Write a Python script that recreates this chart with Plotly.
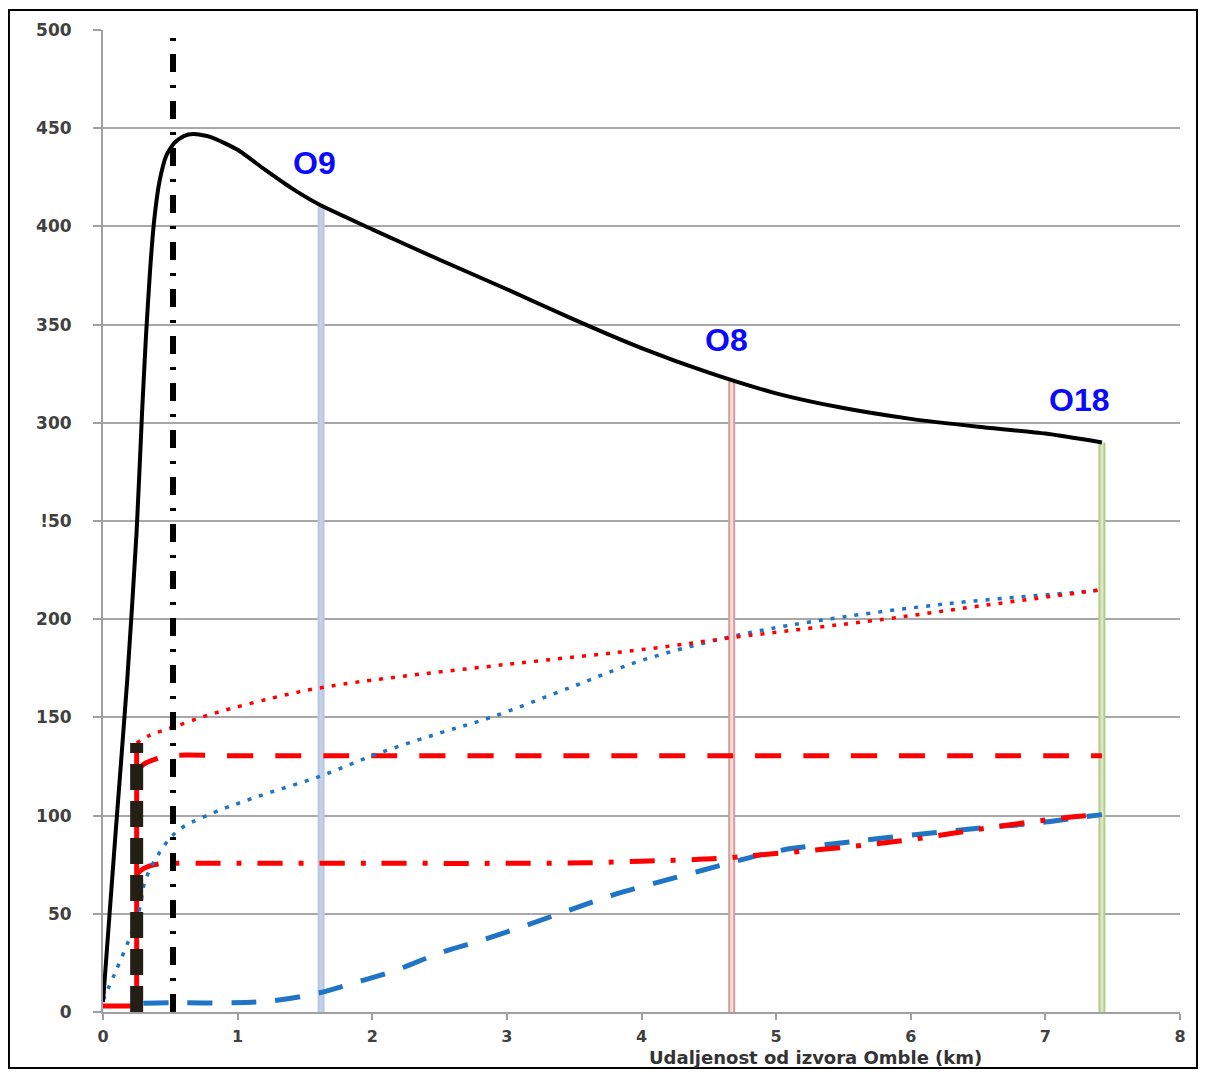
import plotly.graph_objects as go

# ---------------- data ----------------
x_ticks = [0, 1, 2, 3, 4, 5, 6, 7, 8]
y_ticks = [0, 50, 100, 150, 200, 250, 300, 350, 400, 450, 500]
y_tick_labels = ["0", "50", "100", "150", "200", "!50", "300", "350", "400", "450", "500"]
x_title = "Udaljenost od izvora Omble (km)"

# main black curve
black_x = [0, 0.09, 0.18, 0.25, 0.29, 0.32, 0.35, 0.38, 0.42, 0.47, 0.53, 0.6, 0.67, 0.8,
           1.0, 1.2, 1.4, 1.61, 2.0, 2.5, 3.0, 3.5, 4.0, 4.5, 5.0, 5.5,
           6.0, 6.5, 7.0, 7.42]
black_y = [5, 88, 169, 245, 305, 345, 378, 403, 423, 436, 442.5, 446, 447, 445.5,
           439, 429, 419.5, 411, 398.5, 383, 368, 352.5, 338, 325.5, 315, 307.5,
           302, 298, 294.5, 290]

# red dotted
red_dot_x = [0.25, 0.35, 0.52, 0.82, 1.39, 1.61, 2.0, 3.0, 4.06, 4.66, 5.8, 6.54, 7.31, 7.42]
red_dot_y = [137, 141, 145, 152, 162, 165, 169, 177, 185, 190.5, 200, 207, 214, 215]

# blue dotted
blue_dot_x = [0, 0.09, 0.2, 0.27, 0.31, 0.4, 0.55, 0.77, 1.14, 1.61, 2.06, 2.5, 2.88,
              3.5, 4.0, 4.66, 5.25, 6.29, 7.28, 7.42]
blue_dot_y = [6, 20, 38, 52, 66, 79, 92, 100, 109.5, 120, 132, 142, 150,
              166, 179, 191, 198.6, 208, 214, 215]

# red dashed
red_dash_x = [0.25, 0.3, 0.4, 0.5, 1.0, 3.0, 5.0, 7.42]
red_dash_y = [122, 126, 129, 130.5, 130.5, 130.5, 130.5, 130.5]

# red dash-dot
red_dashdot_x = [0.25, 0.3, 0.41, 0.6, 1.0, 2.0, 3.0, 3.6, 4.0, 4.31, 4.6, 4.88, 5.45, 6.02, 6.57, 7.13, 7.42]
red_dashdot_y = [70, 73, 75.4, 75.7, 75.7, 75.7, 75.7, 76, 76.8, 77.4, 78.3, 80, 83.5, 88, 93.7, 98.8, 100.5]

# blue dashed
blue_dash_x = [0.3, 0.5, 0.9, 1.24, 1.61, 1.86, 2.18, 2.5, 2.82, 3.15, 3.47, 3.79, 4.12,
               4.46, 4.68, 5.05, 5.48, 5.85, 6.22, 6.57, 6.91, 7.28, 7.42]
blue_dash_y = [4.5, 4.7, 4.6, 5.6, 9.8, 14.7, 21.4, 30, 36.7, 44.3, 52, 59.6, 66,
               72.3, 76.4, 82.5, 86, 89, 91.6, 94, 96, 99.3, 100.5]

# red solid base
red_base_x = [0, 0.25, 0.25]
red_base_y = [3, 3, 135]

# vertical black markers
thick_dash_x = [0.25, 0.25]
thick_dash_y = [0, 137]
dashdot_x = [0.52, 0.52]
dashdot_y = [0, 496]

# stations
stations = ["O9", "O8", "O18"]
station_x = [1.62, 4.67, 7.42]
station_top = [411, 321, 290]

# ---------------- styles ----------------
station_outer = ["#b8c8e2", "#d99a98", "#b5cb8c"]
station_inner = ["#c3d1e8", "#f4dede", "#dbe6c4"]
label_xshift = [-7, -5, -23]

fig = go.Figure()

for i, name in enumerate(stations):
    fig.add_trace(go.Scatter(x=[station_x[i], station_x[i]], y=[0, station_top[i]],
                             mode="lines", line=dict(color=station_outer[i], width=7),
                             showlegend=False, hoverinfo="skip"))
    fig.add_trace(go.Scatter(x=[station_x[i], station_x[i]], y=[0, station_top[i]],
                             mode="lines", line=dict(color=station_inner[i], width=3),
                             showlegend=False, hoverinfo="skip"))

fig.add_trace(go.Scatter(x=red_base_x, y=red_base_y, mode="lines",
                         line=dict(color="#ff0000", width=5), showlegend=False))
fig.add_trace(go.Scatter(x=blue_dash_x, y=blue_dash_y, mode="lines",
                         line=dict(color="#1f74c6", width=5, dash="25px,19px", shape="spline"),
                         showlegend=False))
fig.add_trace(go.Scatter(x=red_dashdot_x, y=red_dashdot_y, mode="lines",
                         line=dict(color="#ff0000", width=5, dash="25px,16px,5px,16px", shape="spline"),
                         showlegend=False))
fig.add_trace(go.Scatter(x=red_dash_x, y=red_dash_y, mode="lines",
                         line=dict(color="#ff0000", width=5, dash="26px,22px", shape="spline"),
                         showlegend=False))
fig.add_trace(go.Scatter(x=blue_dot_x, y=blue_dot_y, mode="lines",
                         line=dict(color="#1f74c6", width=3.5, dash="4px,8px", shape="spline"),
                         showlegend=False))
fig.add_trace(go.Scatter(x=red_dot_x, y=red_dot_y, mode="lines",
                         line=dict(color="#ff0000", width=3.5, dash="4px,8px", shape="spline"),
                         showlegend=False))
fig.add_trace(go.Scatter(x=thick_dash_x, y=thick_dash_y, mode="lines",
                         line=dict(color="#231f15", width=13, dash="26px,11px"),
                         showlegend=False))
fig.add_trace(go.Scatter(x=dashdot_x, y=dashdot_y, mode="lines",
                         line=dict(color="#000000", width=6, dash="18px,13px,3px,13px"),
                         showlegend=False))
fig.add_trace(go.Scatter(x=black_x, y=black_y, mode="lines",
                         line=dict(color="#000000", width=4, shape="spline", smoothing=0.6),
                         showlegend=False))

for i, name in enumerate(stations):
    fig.add_annotation(x=station_x[i], y=station_top[i], text=name, showarrow=False,
                       xanchor="center", yanchor="bottom", xshift=label_xshift[i], yshift=22,
                       font=dict(family="Liberation Sans, Arial", size=32, color="#0a0aff", weight="bold"))

fig.add_annotation(x=0.662, y=-0.0468, xref="paper", yref="paper", text=x_title,
                   showarrow=False, xanchor="center", yanchor="middle",
                   font=dict(family="DejaVu Sans", size=18, color="#333333", weight="bold"))

# outer frame
fig.add_shape(type="rect", xref="paper", yref="paper",
              x0=-0.0873, x1=1.0158, y0=-0.057, y1=1.0204,
              line=dict(color="#000000", width=2), fillcolor="rgba(0,0,0,0)")

fig.update_layout(
    width=1190, height=1061,
    margin=dict(l=95, r=18, t=22, b=57),
    paper_bgcolor="white", plot_bgcolor="white",
    xaxis=dict(range=[0, 8], tickvals=x_ticks, showgrid=False, zeroline=False,
               showline=True, linecolor="#a0a0a0", linewidth=2,
               ticks="outside", ticklen=6, tickcolor="#a0a0a0", tickwidth=2,
               tickfont=dict(family="DejaVu Sans", size=16, color="#404040", weight="bold"),
               ticklabelstandoff=3),
    yaxis=dict(range=[0, 500], tickvals=y_ticks, ticktext=y_tick_labels,
               showgrid=True, gridcolor="#a8a8a8", gridwidth=2, zeroline=False,
               showline=True, linecolor="#a0a0a0", linewidth=2,
               ticks="outside", ticklen=8, tickcolor="#a0a0a0", tickwidth=2,
               tickfont=dict(family="DejaVu Sans", size=17, color="#404040", weight="bold"),
               ticklabelstandoff=18),
)

fig.write_html("out.html")
